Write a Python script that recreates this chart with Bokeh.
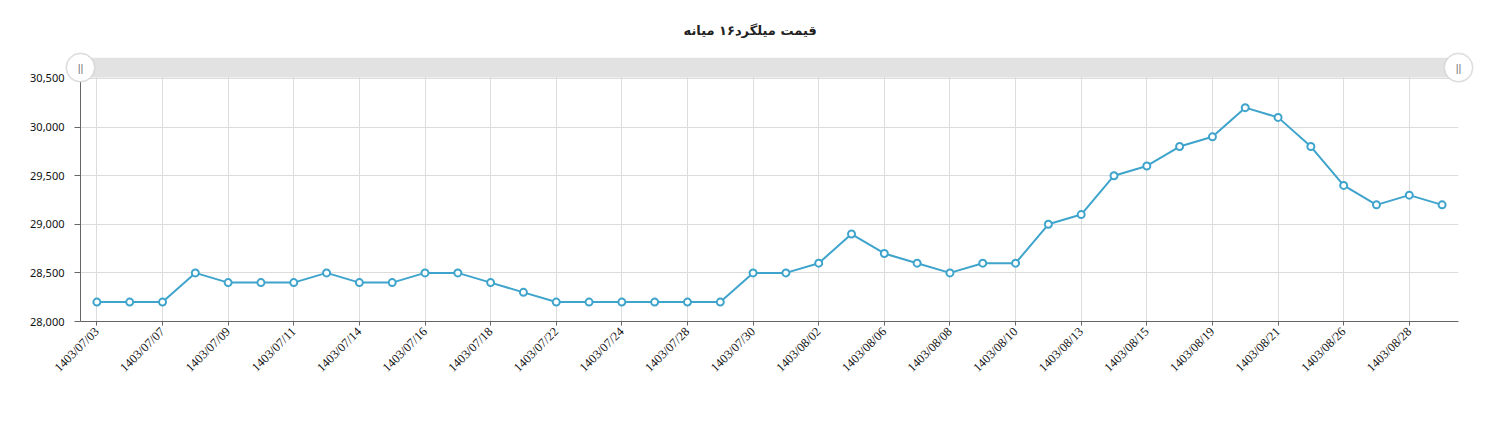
from bokeh.plotting import figure
from bokeh.models import (FixedTicker, NumeralTickFormatter, Range1d, BoxAnnotation)
from bokeh.embed import file_html
from bokeh.resources import INLINE
import math

title_text = "قیمت میلگرد۱۶ میانه"

tick_labels = ["1403/07/03", "1403/07/07", "1403/07/09", "1403/07/11", "1403/07/14",
               "1403/07/16", "1403/07/18", "1403/07/22", "1403/07/24", "1403/07/28",
               "1403/07/30", "1403/08/02", "1403/08/06", "1403/08/08", "1403/08/10",
               "1403/08/13", "1403/08/15", "1403/08/19", "1403/08/21", "1403/08/26",
               "1403/08/28"]

prices = [28200, 28200, 28200, 28500, 28400, 28400, 28400, 28500, 28400, 28400,
          28500, 28500, 28400, 28300, 28200, 28200, 28200, 28200, 28200, 28200,
          28500, 28500, 28600, 28900, 28700, 28600, 28500, 28600, 28600, 29000,
          29100, 29500, 29600, 29800, 29900, 30200, 30100, 29800, 29400, 29200,
          29300, 29200]

y_ticks = [28000, 28500, 29000, 29500, 30000, 30500]

x = list(range(len(prices)))
tick_pos = list(range(0, len(prices), 2))

line_color = "#3fa4cc"

p = figure(width=1495, height=428, output_backend="svg", toolbar_location=None,
           x_range=Range1d(-0.5, len(prices) - 0.5),
           y_range=Range1d(28000, 30716),
           min_border_left=80, min_border_right=37, min_border_top=57,
           min_border_bottom=107)

p.title.text = title_text
p.title.align = "left"
p.title.offset = 603
p.title.text_font = "DejaVu Sans"
p.title.text_font_size = "13px"
p.title.text_font_style = "bold"
p.title.text_color = "#222222"
p.title.standoff = 40

p.outline_line_color = None
p.background_fill_color = "white"
p.border_fill_color = "white"

# axes
p.xaxis.ticker = FixedTicker(ticks=tick_pos)
p.xaxis.major_label_overrides = {i: lab for i, lab in zip(tick_pos, tick_labels)}
p.xaxis.major_label_orientation = math.pi / 4
p.xaxis.major_label_text_font = "Liberation Serif"
p.xaxis.major_label_text_font_size = "12.5px"
p.xaxis.major_label_text_color = "#111111"
p.xaxis.major_label_standoff = 4
p.xaxis.minor_tick_line_color = None
p.xaxis.major_tick_out = 4
p.xaxis.major_tick_in = 0
p.xaxis.axis_line_color = "#666666"
p.xaxis.major_tick_line_color = "#666666"

p.yaxis.ticker = FixedTicker(ticks=y_ticks)
p.yaxis.formatter = NumeralTickFormatter(format="0,0")
p.yaxis.major_label_text_font = "Noto Sans"
p.yaxis.major_label_text_font_size = "11px"
p.yaxis.major_label_text_color = "#111111"
p.yaxis.major_label_standoff = 10
p.yaxis.minor_tick_line_color = None
p.yaxis.major_tick_out = 6
p.yaxis.major_tick_in = 0
p.yaxis.axis_line_color = "#666666"
p.yaxis.major_tick_line_color = "#666666"

p.grid.grid_line_color = "#dcdcdc"
p.grid.grid_line_width = 1

# scrollbar band on top
band = BoxAnnotation(bottom=30510, fill_color="#e2e2e2", fill_alpha=1.0,
                     line_color=None, level="glyph")
p.add_layout(band)

p.line(x, prices, line_color=line_color, line_width=2)
p.scatter(x, prices, size=7, marker="circle", fill_color="white",
          line_color=line_color, line_width=2)

# scrollbar handles
hx = [-0.5, len(prices) - 0.5]
hy = [30612, 30612]
p.scatter(hx, hy, size=30, marker="circle", fill_color="#cccccc", fill_alpha=0.5,
          line_color=None, level="overlay")
p.scatter(hx, hy, size=28, marker="circle", fill_color="white",
          line_color="#d8d8d8", line_width=1, level="overlay")
p.text(hx, hy, text=["||", "||"], text_align="center", text_baseline="middle",
       text_font_size="11px", text_color="#777777", level="overlay")

open("out.html", "w").write(file_html(p, INLINE))
